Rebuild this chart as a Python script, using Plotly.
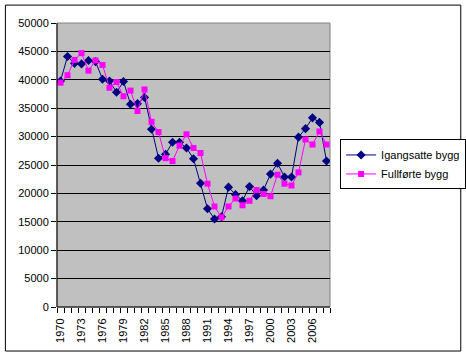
import plotly.graph_objects as go

years = list(range(1970, 2009))
igangsatte = [39800, 44100, 42900, 42800, 43400, 43200, 40100, 39800, 37800, 39700,
              35700, 35800, 36900, 31300, 26200, 26900, 29000, 29000, 28000, 26100,
              21800, 17300, 15500, 15900, 21100, 19800, 18700, 21200, 19600, 20600,
              23400, 25300, 22900, 22900, 29900, 31400, 33300, 32500, 25700]
fullforte = [39500, 40800, 43500, 44700, 41600, 43400, 42600, 38600, 39600, 37100,
             38100, 34500, 38300, 32600, 30800, 26200, 25700, 28400, 30400, 28000,
             27100, 21700, 17700, 15800, 17700, 19100, 17900, 18700, 20600, 19900,
             19500, 23300, 21700, 21400, 23700, 29500, 28600, 30900, 28600]
tick_years = list(range(1970, 2007, 3))
yticks = list(range(0, 50001, 5000))

fig = go.Figure()
fig.add_trace(go.Scatter(x=years, y=igangsatte, name="Igangsatte bygg", mode="lines+markers",
                         line=dict(color="#000080", width=1),
                         marker=dict(symbol="diamond", size=7, color="#000080")))
fig.add_trace(go.Scatter(x=years, y=fullforte, name="Fullførte bygg", mode="lines+markers",
                         line=dict(color="#FF00FF", width=1),
                         marker=dict(symbol="square", size=6, color="#FF00FF")))

font = "Liberation Sans, Arial, sans-serif"
fig.update_layout(
    width=466, height=357,
    margin=dict(l=57, r=136, t=23, b=50, autoexpand=False),
    paper_bgcolor="white", plot_bgcolor="#C0C0C0",
    font=dict(family=font, size=11, color="black"),
    showlegend=True,
    legend=dict(x=1.037, y=0.59, xanchor="left", yanchor="top",
                bordercolor="black", borderwidth=1, bgcolor="white",
                font=dict(size=11), tracegroupgap=0, itemwidth=30),
    xaxis=dict(range=[1969.5, 2008.5], tickmode="array", tickvals=tick_years,
               ticktext=[str(y) for y in tick_years], tickangle=-90,
               ticks="outside", ticklen=6, tickcolor="rgba(0,0,0,0)",
               showgrid=False, zeroline=False, showline=False, automargin=False,
               minor=dict(tickmode="array", tickvals=[y + 0.5 for y in range(1969, 2009)],
                          ticks="outside", ticklen=5, tickcolor="black", showgrid=False),
               tickfont=dict(size=11)),
    yaxis=dict(range=[0, 50000], tickvals=yticks, ticks="outside", ticklen=5,
               tickcolor="black", showgrid=True, gridcolor="black", gridwidth=1,
               zeroline=False, showline=False, automargin=False,
               tickfont=dict(size=11), tickformat="d"),
    shapes=[
        dict(type="rect", xref="paper", yref="paper", x0=0, x1=1, y0=0, y1=1,
             line=dict(color="#808080", width=1), layer="below"),
        dict(type="line", xref="paper", yref="paper", x0=0, x1=0, y0=0, y1=1,
             line=dict(color="black", width=1)),
        dict(type="line", xref="paper", yref="paper", x0=0, x1=1, y0=0, y1=0,
             line=dict(color="black", width=1)),
        dict(type="rect", xref="paper", yref="paper", x0=-0.189, x1=1.479,
             y0=-0.155, y1=1.063, line=dict(color="black", width=1)),
    ],
)
fig.write_html("out.html", config={"displayModeBar": False},
               post_script="document.body.style.margin='0';document.body.style.overflow='hidden';")
